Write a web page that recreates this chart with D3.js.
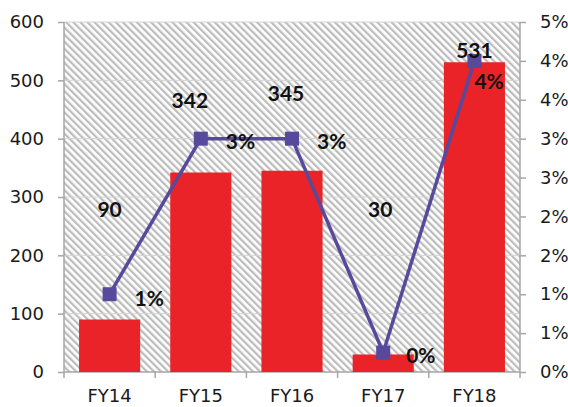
<!DOCTYPE html>
<html>
<head>
<meta charset="utf-8">
<script src="https://cdn.jsdelivr.net/npm/d3@7"></script>
<style>
  html, body { margin: 0; padding: 0; background: #fff; }
  svg { display: block; }
</style>
</head>
<body>
<div id="chart"></div>
<script>
// Fiscal years on the category axis
const years = ["FY14", "FY15", "FY16", "FY17", "FY18"];
// Bar series (left axis)
const amounts = [90, 342, 345, 30, 531];
// Line series (right axis), as fractions
const rates = [0.010, 0.030, 0.030, 0.0025, 0.040];
// Axis ticks
const leftTicks = [0, 100, 200, 300, 400, 500, 600];
const rightTicks = [0, 0.005, 0.01, 0.015, 0.02, 0.025, 0.03, 0.035, 0.04, 0.045];
const rightTickLabels = ["0%", "1%", "1%", "2%", "2%", "3%", "3%", "4%", "4%", "5%"];

// Hand-placed label anchors: [dx in px, height in left-axis units]
const amountLabelAnchor = [[0, 281], [-11, 467], [-6, 480], [-3, 281], [0, 553]];
// Offsets of the rate labels from their markers: [dx, dy] in px
const rateLabelShift = [[25, 3], [25, 2], [25, 2], [23, 2], [0, 20]];

const W = 568, H = 407;
const plot = { left: 64, right: 520, top: 22, bottom: 372 };

const svg = d3.select("#chart").append("svg")
  .attr("width", W).attr("height", H);

// Diagonal hatch fill for the plot area
const defs = svg.append("defs");
const pat = defs.append("pattern")
  .attr("id", "hatch")
  .attr("patternUnits", "userSpaceOnUse")
  .attr("width", 5).attr("height", 5)
  .attr("patternTransform", "rotate(-45)");
pat.append("rect").attr("width", 5).attr("height", 5).attr("fill", "#ffffff");
pat.append("rect").attr("x", 0).attr("width", 2.3).attr("height", 5).attr("fill", "#bdbdbd");

const x = d3.scaleBand().domain(years)
  .range([plot.left, plot.right]).paddingInner(0.33).paddingOuter(0.165);
const yL = d3.scaleLinear().domain([0, 600]).range([plot.bottom, plot.top]);
const yR = d3.scaleLinear().domain([0, 0.045]).range([plot.bottom, plot.top]);
const cx = d => x(d) + x.bandwidth() / 2;

svg.append("rect")
  .attr("x", plot.left).attr("y", plot.top)
  .attr("width", plot.right - plot.left).attr("height", plot.bottom - plot.top)
  .attr("fill", "url(#hatch)");

// Light horizontal gridlines
svg.append("g").selectAll("line").data(leftTicks.slice(1)).join("line")
  .attr("x1", plot.left).attr("x2", plot.right)
  .attr("y1", d => yL(d)).attr("y2", d => yL(d))
  .attr("stroke", "#d4d4d4").attr("stroke-width", 1);

const axisColor = "#a6a6a6";
const tickFont = "'DejaVu Sans', sans-serif";

// Left axis
const gL = svg.append("g").attr("transform", `translate(${plot.left},0)`)
  .call(d3.axisLeft(yL).tickValues(leftTicks).tickSize(6).tickPadding(14));
// Right axis
const gR = svg.append("g").attr("transform", `translate(${plot.right},0)`)
  .call(d3.axisRight(yR).tickValues(rightTicks).tickSize(6).tickPadding(14)
    .tickFormat((d, i) => rightTickLabels[i]));
// Bottom axis with ticks between categories
const edges = d3.range(years.length + 1).map(i => plot.left + i * x.step());
const gB = svg.append("g").attr("transform", `translate(0,${plot.bottom})`)
  .call(d3.axisBottom(x).tickSize(0).tickPadding(14));
gB.selectAll(".edge").data(edges).join("line").attr("class", "edge")
  .attr("x1", d => d).attr("x2", d => d).attr("y1", 0).attr("y2", 6);

[gL, gR, gB].forEach(g => {
  g.selectAll("path.domain").attr("stroke", axisColor).attr("stroke-width", 1.5);
  g.selectAll("line").attr("stroke", axisColor).attr("stroke-width", 1.5);
  g.selectAll("text").attr("fill", "#1a1a1a")
    .style("font-family", tickFont).style("font-size", "18px");
});
gB.select("path.domain").attr("d", `M${plot.left},0H${plot.right}`);
gL.select("path.domain").attr("d", `M0,${plot.bottom}V${plot.top}`);
gR.select("path.domain").attr("d", `M0,${plot.bottom}V${plot.top}`);
gB.selectAll(".tick text").attr("dy", "0.9em");

// Bars
svg.append("g").selectAll("rect").data(amounts).join("rect")
  .attr("x", (d, i) => x(years[i]))
  .attr("y", d => yL(d))
  .attr("width", x.bandwidth())
  .attr("height", d => yL(0) - yL(d))
  .attr("fill", "#e92327");

// Rate line with square markers
const pts = rates.map((r, i) => [cx(years[i]), yR(r)]);
svg.append("path")
  .attr("d", d3.line()(pts))
  .attr("fill", "none").attr("stroke", "#574a9c").attr("stroke-width", 3.5)
  .attr("stroke-linejoin", "round");
const ms = 14;
svg.append("g").selectAll("rect").data(pts).join("rect")
  .attr("x", d => d[0] - ms / 2).attr("y", d => d[1] - ms / 2)
  .attr("width", ms).attr("height", ms)
  .attr("fill", "#574a9c");

const labelFont = "Lato, 'DejaVu Sans', sans-serif";

// Amount labels
svg.append("g").selectAll("text").data(amounts).join("text")
  .attr("x", (d, i) => cx(years[i]) + amountLabelAnchor[i][0])
  .attr("y", (d, i) => yL(amountLabelAnchor[i][1]))
  .attr("text-anchor", "middle").attr("dominant-baseline", "central")
  .style("font-family", labelFont).style("font-weight", "bold").style("font-size", "21px")
  .attr("fill", "#111")
  .text(d => d3.format("d")(d));

// Rate labels
svg.append("g").selectAll("text").data(rates).join("text")
  .attr("x", (d, i) => pts[i][0] + rateLabelShift[i][0])
  .attr("y", (d, i) => pts[i][1] + rateLabelShift[i][1])
  .attr("text-anchor", "start").attr("dominant-baseline", "central")
  .style("font-family", labelFont).style("font-weight", "bold").style("font-size", "21px")
  .attr("fill", "#111")
  .text(d => d3.format(".0%")(d));
</script>
</body>
</html>
